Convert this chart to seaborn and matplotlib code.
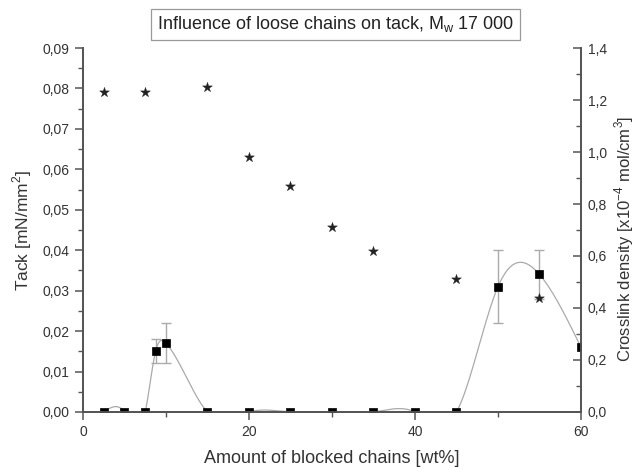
import numpy as np
import pandas as pd
import matplotlib
matplotlib.use("Agg")
import matplotlib.pyplot as plt
from matplotlib.ticker import MultipleLocator, FuncFormatter
import seaborn as sns

# --- data ---
tack_x = [2.5, 5, 7.5, 8.75, 10, 15, 20, 25, 30, 35, 40, 45, 50, 55, 60]
tack_y = [0.0, 0.0, 0.0, 0.015, 0.017, 0.0, 0.0, 0.0, 0.0, 0.0, 0.0, 0.0, 0.031, 0.034, 0.016]
err_x = [8.75, 10, 50, 55]
err_y = [0.015, 0.017, 0.031, 0.034]
err_lo = [0.003, 0.005, 0.009, 0.006]
err_hi = [0.003, 0.005, 0.009, 0.006]
cl_x = [2.5, 7.5, 15, 20, 25, 30, 35, 45, 55]
cl_y = [1.23, 1.23, 1.25, 0.98, 0.87, 0.71, 0.62, 0.51, 0.44]

title = "Influence of loose chains on tack, M$_\\mathregular{w}$ 17 000"
xlabel = "Amount of blocked chains [wt%]"
ylabel_left = "Tack [mN/mm$^\\mathregular{2}$]"
ylabel_right = "Crosslink density [x10$^\\mathregular{-4}$ mol/cm$^\\mathregular{3}$]"


def natural_spline(x, y, n=600):
    x = np.asarray(x, float); y = np.asarray(y, float)
    m = len(x)
    h = np.diff(x)
    A = np.zeros((m, m)); b = np.zeros(m)
    A[0, 0] = 1; A[-1, -1] = 1
    for i in range(1, m - 1):
        A[i, i - 1] = h[i - 1]
        A[i, i] = 2 * (h[i - 1] + h[i])
        A[i, i + 1] = h[i]
        b[i] = 3 * ((y[i + 1] - y[i]) / h[i] - (y[i] - y[i - 1]) / h[i - 1])
    c = np.linalg.solve(A, b)
    xs = np.linspace(x[0], x[-1], n)
    idx = np.clip(np.searchsorted(x, xs) - 1, 0, m - 2)
    dx = xs - x[idx]
    hi = h[idx]
    bb = (y[idx + 1] - y[idx]) / hi - hi * (2 * c[idx] + c[idx + 1]) / 3
    dd = (c[idx + 1] - c[idx]) / (3 * hi)
    ys = y[idx] + bb * dx + c[idx] * dx ** 2 + dd * dx ** 3
    return xs, ys


sns.set_theme(style="white")
plt.rcParams['font.family'] = ['Liberation Sans', 'DejaVu Sans']
plt.rcParams['mathtext.fontset'] = 'custom'
plt.rcParams['mathtext.rm'] = 'Liberation Sans'

txt = "#333333"
spine_c = "#555555"

fig = plt.figure(figsize=(6.36, 4.68), dpi=100)
ax = fig.add_axes([0.1305, 0.1197, 0.783, 0.7777])
ax2 = ax.twinx()

sx, sy = natural_spline(tack_x, tack_y)
spl = pd.DataFrame({"x": sx, "y": sy})
sns.lineplot(data=spl, x="x", y="y", ax=ax, color="#aaaaaa", lw=0.9, zorder=2)

ax.errorbar(err_x, err_y, yerr=[err_lo, err_hi], fmt="none", ecolor="#aaaaaa",
            elinewidth=1.0, capsize=3.5, capthick=1.0, zorder=3)

tack = pd.DataFrame({"x": tack_x, "y": tack_y})
sns.scatterplot(data=tack, x="x", y="y", ax=ax, marker="s", s=40, color="black",
                edgecolor="black", linewidth=0.5, zorder=4, clip_on=True)

cl = pd.DataFrame({"x": cl_x, "y": cl_y})
sns.scatterplot(data=cl, x="x", y="y", ax=ax2, marker="*", s=55, color="#222222",
                edgecolor="#222222", linewidth=0.3, zorder=4)

ax.set_xlim(0, 60)
ax.set_ylim(0, 0.09)
ax2.set_ylim(0, 1.4)

ax.xaxis.set_major_locator(MultipleLocator(20))
ax.xaxis.set_minor_locator(MultipleLocator(10))
ax.yaxis.set_major_locator(MultipleLocator(0.01))
ax.yaxis.set_minor_locator(MultipleLocator(0.005))
ax2.yaxis.set_major_locator(MultipleLocator(0.2))
ax2.yaxis.set_minor_locator(MultipleLocator(0.1))

ax.xaxis.set_major_formatter(FuncFormatter(lambda v, p: f"{v:.0f}"))
ax.yaxis.set_major_formatter(FuncFormatter(lambda v, p: f"{v:.2f}".replace(".", ",")))
ax2.yaxis.set_major_formatter(FuncFormatter(lambda v, p: f"{v:.1f}".replace(".", ",")))

for a in (ax, ax2):
    for s in a.spines.values():
        s.set_color(spine_c)
        s.set_linewidth(1.3)
    a.spines["top"].set_visible(False)

ax.tick_params(axis="both", which="major", direction="out", length=6, width=1.1,
               color=spine_c, labelcolor=txt, labelsize=10)
ax.tick_params(axis="both", which="minor", direction="out", length=3.5, width=1.0,
               color=spine_c)
ax.tick_params(axis="x", which="both", bottom=True)
ax.tick_params(axis="y", which="both", left=True)
ax2.tick_params(axis="y", which="major", direction="in", length=6, width=1.1,
                color=spine_c, labelcolor=txt, labelsize=10, right=True, pad=5)
ax2.tick_params(axis="y", which="minor", direction="in", length=3.5, width=1.0,
                color=spine_c, right=True)

ax.set_xlabel(xlabel, fontsize=13, color=txt, labelpad=8)
ax.set_ylabel(ylabel_left, fontsize=12.5, color=txt, labelpad=6)
ax2.set_ylabel(ylabel_right, fontsize=12, color=txt, labelpad=1)
ax2.yaxis.set_label_coords(1.064, 0.475)

fig.text(0.5275, 0.9485, title, ha="center", va="center", fontsize=13, color="#222222",
         bbox=dict(boxstyle="square,pad=0.3", fc="white", ec="#999999", lw=0.9))

fig.savefig("out.png", dpi=100)
